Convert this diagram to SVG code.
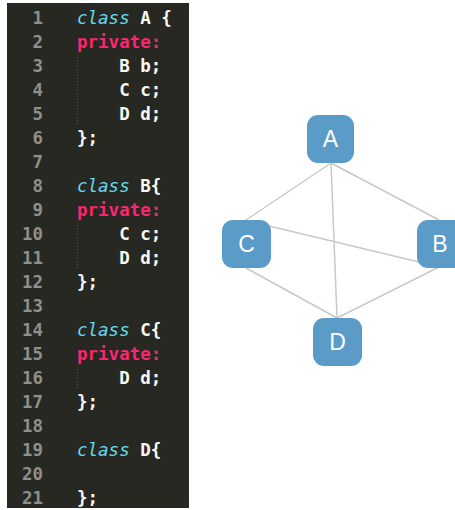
<svg xmlns="http://www.w3.org/2000/svg" width="455" height="510" viewBox="0 0 455 510">
<style>
.ln{font-family:"DejaVu Sans Mono","Liberation Mono",monospace;font-size:17.5px;font-weight:bold;fill:#8f908a;text-anchor:end}
.c{font-family:"DejaVu Sans Mono","Liberation Mono",monospace;font-size:17.5px;font-weight:bold;fill:#f8f8f2;white-space:pre}
.kw{fill:#66d9ef;font-style:italic;font-weight:normal}
.pv{fill:#f92672}
.node rect{fill:#5b9bc8}
.node text{font-family:"Liberation Sans",Arial,sans-serif;font-size:23px;fill:#fff;text-anchor:middle}
.edge{stroke:#c8c8c8;stroke-width:1.5;fill:none}
</style>
<rect width="455" height="510" fill="#fff"/>
<g id="code">
<rect x="7" y="3" width="182" height="505" fill="#272822"/>
<line x1="77.5" y1="57" x2="77.5" y2="124" stroke="#555" stroke-dasharray="1,2"/>
<line x1="77.5" y1="225" x2="77.5" y2="270" stroke="#555" stroke-dasharray="1,2"/>
<line x1="77.5" y1="369" x2="77.5" y2="390" stroke="#555" stroke-dasharray="1,2"/>
<text class="ln" x="43" y="24">1</text>
<text class="ln" x="43" y="48">2</text>
<text class="ln" x="43" y="72">3</text>
<text class="ln" x="43" y="96">4</text>
<text class="ln" x="43" y="120">5</text>
<text class="ln" x="43" y="144">6</text>
<text class="ln" x="43" y="168">7</text>
<text class="ln" x="43" y="192">8</text>
<text class="ln" x="43" y="216">9</text>
<text class="ln" x="43" y="240">10</text>
<text class="ln" x="43" y="264">11</text>
<text class="ln" x="43" y="288">12</text>
<text class="ln" x="43" y="312">13</text>
<text class="ln" x="43" y="336">14</text>
<text class="ln" x="43" y="360">15</text>
<text class="ln" x="43" y="384">16</text>
<text class="ln" x="43" y="408">17</text>
<text class="ln" x="43" y="432">18</text>
<text class="ln" x="43" y="456">19</text>
<text class="ln" x="43" y="480">20</text>
<text class="ln" x="43" y="504">21</text>
<text class="c" x="77" y="24"><tspan class="kw">class</tspan> A {</text>
<text class="c pv" x="77" y="48">private:</text>
<text class="c" x="77" y="72">    B b;</text>
<text class="c" x="77" y="96">    C c;</text>
<text class="c" x="77" y="120">    D d;</text>
<text class="c" x="77" y="144">};</text>
<text class="c" x="77" y="192"><tspan class="kw">class</tspan> B{</text>
<text class="c pv" x="77" y="216">private:</text>
<text class="c" x="77" y="240">    C c;</text>
<text class="c" x="77" y="264">    D d;</text>
<text class="c" x="77" y="288">};</text>
<text class="c" x="77" y="336"><tspan class="kw">class</tspan> C{</text>
<text class="c pv" x="77" y="360">private:</text>
<text class="c" x="77" y="384">    D d;</text>
<text class="c" x="77" y="408">};</text>
<text class="c" x="77" y="456"><tspan class="kw">class</tspan> D{</text>
<text class="c" x="77" y="504">};</text>
</g>
<g id="edges">
<line class="edge" x1="331" y1="163" x2="246" y2="220"/>
<line class="edge" x1="331" y1="163" x2="439" y2="220"/>
<line class="edge" x1="331" y1="163" x2="337" y2="318"/>
<line class="edge" x1="265" y1="225" x2="423" y2="263"/>
<line class="edge" x1="246" y1="268" x2="337" y2="318"/>
<line class="edge" x1="439" y1="267" x2="337" y2="318"/>
</g>
<g id="node-A" class="node"><rect x="307" y="115" width="47" height="48" rx="11"/><text x="330.5" y="147">A</text></g>
<g id="node-C" class="node"><rect x="222" y="220" width="49" height="48" rx="11"/><text x="246.5" y="252">C</text></g>
<g id="node-B" class="node"><rect x="417" y="220" width="49" height="48" rx="11"/><text x="440" y="252">B</text></g>
<g id="node-D" class="node"><rect x="313" y="318" width="49" height="48" rx="11"/><text x="337.5" y="350">D</text></g>
</svg>
